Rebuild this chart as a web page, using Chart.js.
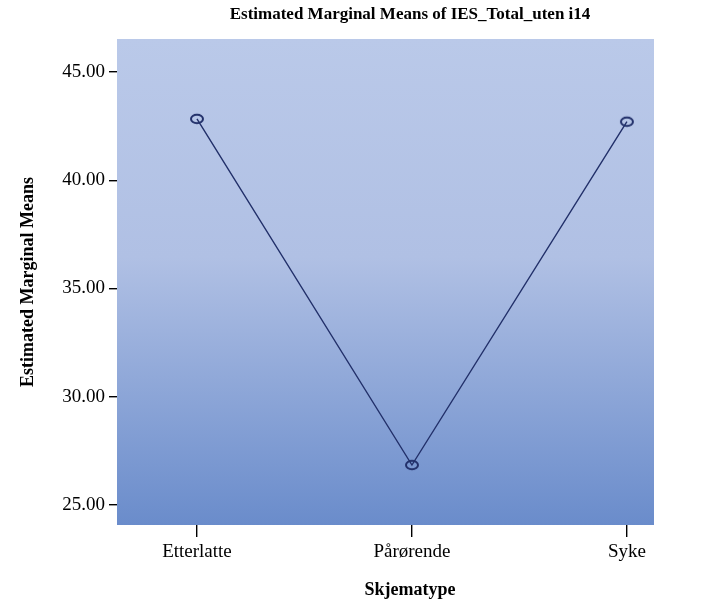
<!DOCTYPE html>
<html>
<head>
<meta charset="utf-8">
<script src="https://cdn.jsdelivr.net/npm/chart.js@4.4.0/dist/chart.umd.min.js"></script>
<style>
  html, body { margin: 0; padding: 0; background: #fff; }
  #wrap { width: 712px; height: 606px; }
</style>
</head>
<body>
<div id="wrap"><canvas id="chart" width="712" height="606"></canvas></div>
<script>
// Dados do gráfico
const categories = ['Etterlatte', 'Pårørende', 'Syke'];
const means = [42.83, 26.85, 42.70];
const yTicks = [25, 30, 35, 40, 45];

const titleText = 'Estimated Marginal Means of IES_Total_uten i14';
const xTitle = 'Skjematype';
const yTitle = 'Estimated Marginal Means';

const serif = '"Liberation Serif", "DejaVu Serif", serif';

// marcador: elipse vazia
function makeMarker() {
    const c = document.createElement('canvas');
    c.width = 18; c.height = 14;
    const g = c.getContext('2d');
    g.strokeStyle = '#22306a';
    g.lineWidth = 2;
    g.beginPath();
    g.ellipse(9, 7, 6, 4.3, 0, 0, Math.PI * 2);
    g.stroke();
    return c;
}

// fundo em degradê da área do gráfico
const areaBackground = {
    id: 'areaBackground',
    beforeDraw(chart) {
        const { ctx, chartArea: a } = chart;
        const grad = ctx.createLinearGradient(0, a.top, 0, a.bottom);
        grad.addColorStop(0, '#bac9e9');
        grad.addColorStop(0.45, '#b0c0e4');
        grad.addColorStop(1, '#6a8ccb');
        ctx.save();
        ctx.fillStyle = grad;
        ctx.fillRect(a.left, a.top, a.right - a.left, a.bottom - a.top);
        ctx.restore();
    }
};

// títulos
const titles = {
    id: 'titles',
    afterDraw(chart) {
        const ctx = chart.ctx;
        ctx.save();
        ctx.fillStyle = '#000';
        ctx.textAlign = 'center';
        ctx.textBaseline = 'middle';
        ctx.font = 'bold 17px ' + serif;
        ctx.fillText(titleText, 410, 15);
        ctx.font = 'bold 18px ' + serif;
        ctx.fillText(xTitle, 410, 590);
        ctx.restore();
    }
};

const points = means.map((v, i) => ({ x: i, y: v }));

new Chart(document.getElementById('chart'), {
    type: 'line',
    data: {
        datasets: [{
            data: points,
            borderColor: '#22306a',
            borderWidth: 1.4,
            pointStyle: makeMarker(),
            pointRadius: 7,
            pointHoverRadius: 7,
            fill: false,
            tension: 0
        }]
    },
    options: {
        responsive: false,
        animation: false,
        layout: { padding: { top: 39, right: 58, bottom: 0, left: 0 } },
        plugins: {
            legend: { display: false },
            tooltip: { enabled: false },
            title: { display: false }
        },
        scales: {
            x: {
                type: 'linear',
                min: -0.372,
                max: 2.126,
                afterBuildTicks(scale) {
                    scale.ticks = categories.map((c, i) => ({ value: i }));
                },
                afterFit(scale) { scale.height = 81; },
                ticks: {
                    color: '#000',
                    font: { family: serif, size: 19 },
                    padding: 4,
                    maxRotation: 0,
                    callback: (v) => categories[v]
                },
                grid: { drawOnChartArea: false, drawTicks: true, tickLength: 12, color: '#000', lineWidth: 1.4 },
                border: { display: false }
            },
            y: {
                min: 24.08,
                max: 46.52,
                afterBuildTicks(scale) {
                    scale.ticks = yTicks.map(v => ({ value: v }));
                },
                afterFit(scale) { scale.width = 117; },
                ticks: {
                    color: '#000',
                    font: { family: serif, size: 19 },
                    padding: 4,
                    callback: (v) => Number(v).toFixed(2)
                },
                grid: { drawOnChartArea: false, drawTicks: true, tickLength: 8, color: '#000', lineWidth: 1.4 },
                border: { display: false },
                title: {
                    display: true,
                    text: yTitle,
                    color: '#000',
                    font: { family: serif, size: 18, weight: 'bold' },
                    padding: { top: 18, bottom: 0 }
                }
            }
        }
    },
    plugins: [areaBackground, titles]
});
</script>
</body>
</html>
